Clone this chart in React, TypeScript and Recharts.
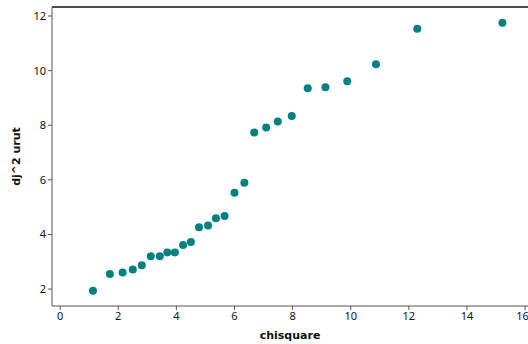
import { ReferenceLine, Scatter, ScatterChart, XAxis, YAxis } from 'recharts'

const chisquare = [
  1.13, 1.71, 2.15, 2.5, 2.81, 3.12, 3.43, 3.69, 3.95, 4.23, 4.5, 4.78, 5.09, 5.36,
  5.66, 6.0, 6.34, 6.68, 7.09, 7.49, 7.97, 8.52, 9.13, 9.88, 10.87, 12.29, 15.22,
]

const djUrut = [
  1.94, 2.55, 2.61, 2.72, 2.87, 3.2, 3.2, 3.34, 3.34, 3.61, 3.72, 4.26, 4.33, 4.59,
  4.68, 5.53, 5.89, 7.73, 7.92, 8.14, 8.34, 9.35, 9.39, 9.61, 10.23, 11.53, 11.75,
]

const xTicks = [0, 2, 4, 6, 8, 10, 12, 14, 16]
const yTicks = [2, 4, 6, 8, 10, 12]

const xDomain: [number, number] = [-0.28, 16.1]
const yDomain: [number, number] = [1.38, 12.33]

const points = chisquare.map((x, i) => ({ x, y: djUrut[i] }))

const tickStyle = { fontFamily: 'Noto Sans', fontSize: 11, fill: '#111' }
const titleStyle = {
  fontFamily: 'DejaVu Sans',
  fontSize: 11,
  fontWeight: 'bold',
  fill: '#111',
}

function renderDot(props: { cx?: number; cy?: number }) {
  return <circle cx={props.cx} cy={props.cy} r={4} fill="#008080" />
}

export default function App() {
  return (
    <div style={{ position: 'absolute', left: 0, top: 0 }}>
      <ScatterChart
        width={528}
        height={344}
        margin={{ top: 7, right: 0, bottom: 0, left: 0 }}
      >
        <XAxis
          type="number"
          dataKey="x"
          domain={xDomain}
          ticks={xTicks}
          allowDataOverflow
          height={38}
          stroke="#555"
          tickSize={4}
          tick={tickStyle}
          label={{
            value: 'chisquare',
            position: 'insideBottom',
            offset: 5,
            style: titleStyle,
          }}
        />
        <YAxis
          type="number"
          dataKey="y"
          domain={yDomain}
          ticks={yTicks}
          allowDataOverflow
          width={52}
          stroke="#555"
          tickSize={4}
          tick={tickStyle}
          label={{
            value: 'dj^2 urut',
            angle: -90,
            position: 'insideLeft',
            offset: 16,
            style: { ...titleStyle, textAnchor: 'middle' },
          }}
        />
        <ReferenceLine y={yDomain[1]} stroke="#111" strokeWidth={1.5} />
        <Scatter data={points} shape={renderDot} isAnimationActive={false} />
      </ScatterChart>
    </div>
  )
}
